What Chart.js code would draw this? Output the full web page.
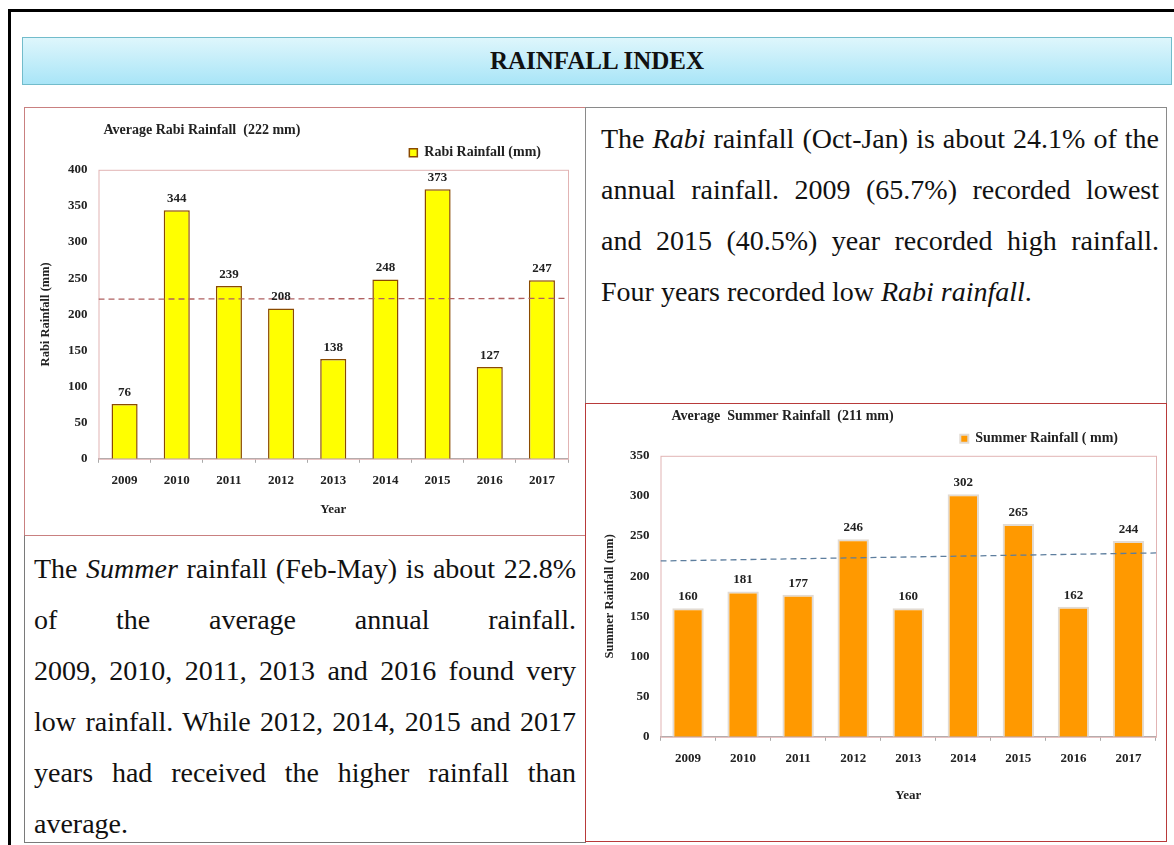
<!DOCTYPE html>
<html lang="en">
<head>
  <meta charset="UTF-8">
  <title>Rainfall Index</title>
  <script src="https://cdn.jsdelivr.net/npm/chart.js"></script>
  <style>
    body { margin: 0; background: #fff; font-family: 'Liberation Serif', 'Times New Roman', serif; }
    .frame { position: absolute; left: 8px; top: 9px; width: 1200px; height: 900px;
             border-left: 3px solid #000; border-top: 3px solid #000; }
    .banner { position: absolute; left: 22px; top: 37px; width: 1148px; height: 46px;
              background: linear-gradient(to bottom, #def6fc, #a9e5f7);
              border: 1px solid #72bccb; text-align: center; font-weight: bold;
              font-size: 25px; line-height: 46px; color: #111; }
    .box { position: absolute; box-sizing: border-box; }
    .text { font-size: 28px; line-height: 51px; color: #111; }
    .text div { text-align: justify; text-align-last: justify; white-space: nowrap; }
    .text div.last { text-align-last: left; }
    canvas { display: block; }
  </style>
</head>
<body>
  <div class="frame"></div>
  <div class="banner">RAINFALL INDEX</div>

  <!-- Rabi chart -->
  <div class="box" style="left:24px; top:107px; width:562px; height:429px; border:1px solid #c98080;">
    <div style="width:560px; height:427px;"><canvas id="rabi"></canvas></div>
  </div>

  <!-- Rabi text -->
  <div class="box text" style="left:585px; top:107px; width:582px; height:297px; border:1px solid #8a8a8a; padding:5px 7px 0 15px;">
    <div>The <i>Rabi</i> rainfall (Oct-Jan) is about 24.1% of the</div>
    <div>annual rainfall. 2009 (65.7%) recorded lowest</div>
    <div>and 2015 (40.5%) year recorded high rainfall.</div>
    <div class="last">Four years recorded low <i>Rabi rainfall</i>.</div>
  </div>

  <!-- Summer text -->
  <div class="box text" style="left:24px; top:535px; width:562px; height:308px; border:1px solid #7a7a7a; border-top-color:#c98080; padding:7px 9px 0 9px;">
    <div>The <i>Summer</i> rainfall (Feb-May) is about 22.8%</div>
    <div>of the average annual rainfall.</div>
    <div>2009, 2010, 2011, 2013 and 2016 found very</div>
    <div>low rainfall. While 2012, 2014, 2015 and 2017</div>
    <div>years had received the higher rainfall than</div>
    <div class="last">average.</div>
  </div>

  <!-- Summer chart -->
  <div class="box" style="left:585px; top:403px; width:582px; height:439px; border:1px solid #b83a3a;">
    <div style="width:580px; height:437px;"><canvas id="summer"></canvas></div>
  </div>

  <script>
    var years = ['2009', '2010', '2011', '2012', '2013', '2014', '2015', '2016', '2017'];
    var rabiValues = [76, 344, 239, 208, 138, 248, 373, 127, 247];
    var summerValues = [160, 181, 177, 246, 160, 302, 265, 162, 244];
    // dashed average lines: value at left edge and right edge of the plot
    var rabiAvgLine = [221, 222];
    var summerAvgLine = [219, 229];
    var rabiTicks = [0, 400, 50];
    var summerTicks = [0, 350, 50];

    var serif = "'Liberation Serif', 'Times New Roman', serif";

    // pink frame round the plot area, and nudge title/legend like the original
    var plotFrame = {
      id: 'plotFrame',
      beforeDraw: function(chart, args, opts) {
        var a = chart.chartArea;
        chart.titleBlock.left = a.left + opts.titleInset;
        chart.legend.right = a.right - opts.legendInset;
      },
      beforeDatasetsDraw: function(chart) {
        var a = chart.chartArea, ctx = chart.ctx;
        ctx.save();
        ctx.strokeStyle = '#e2b4b4';
        ctx.lineWidth = 1;
        ctx.strokeRect(a.left + 0.5, a.top + 0.5, a.right - a.left, a.bottom - a.top);
        ctx.restore();
      }
    };

    // value labels above the bars
    var barValues = {
      id: 'barValues',
      afterDatasetsDraw: function(chart) {
        var ctx = chart.ctx;
        ctx.save();
        ctx.font = 'bold 13px ' + serif;
        ctx.fillStyle = '#222';
        ctx.textAlign = 'center';
        ctx.textBaseline = 'bottom';
        chart.data.datasets.forEach(function(ds, i) {
          if (ds.type !== 'bar') return;
          chart.getDatasetMeta(i).data.forEach(function(bar, j) {
            ctx.fillText(ds.data[j], bar.x, bar.y - 5);
          });
        });
        ctx.restore();
      }
    };

    function makeChart(id, cfg) {
      var font = { family: serif, weight: 'bold', size: 13 };
      return new Chart(document.getElementById(id), {
        type: 'bar',
        data: {
          labels: years,
          datasets: [{
            type: 'bar',
            label: cfg.legend,
            data: cfg.values,
            backgroundColor: cfg.fill,
            borderColor: cfg.edge,
            borderWidth: cfg.edgeWidth,
            barPercentage: cfg.barPct,
            categoryPercentage: 1,
            grouped: false,
            xAxisID: 'x',
            order: 1
          }, {
            type: 'line',
            label: 'average',
            data: [{ x: 0, y: cfg.avg[0] }, { x: 1, y: cfg.avg[1] }],
            borderColor: cfg.avgColor,
            borderWidth: 1.3,
            borderDash: [6, 4],
            pointRadius: 0,
            xAxisID: 'xLine',
            order: 0
          }]
        },
        options: {
          responsive: true,
          maintainAspectRatio: false,
          animation: false,
          layout: { padding: cfg.pad },
          plugins: {
            plotFrame: { titleInset: cfg.titleInset, legendInset: cfg.legendInset },
            title: {
              display: true, text: cfg.title, align: 'start', fullSize: false,
              color: '#222', font: { family: serif, weight: 'bold', size: 14 },
              padding: cfg.titlePad
            },
            legend: {
              display: true, align: 'end', fullSize: false,
              labels: {
                filter: function(item) { return item.datasetIndex === 0; },
                boxWidth: 8, boxHeight: 8, padding: cfg.legendPad,
                color: '#222', font: { family: serif, weight: 'bold', size: 14 }
              }
            },
            tooltip: { enabled: false }
          },
          scales: {
            x: {
              type: 'category',
              offset: true,
              grid: { display: true, drawOnChartArea: false, drawTicks: true, tickLength: 4, color: '#aaa', offset: true },
              border: { color: '#aaa' },
              ticks: { color: '#222', font: font, padding: cfg.xTickPad },
              title: { display: true, text: 'Year', color: '#222', font: font, padding: { top: cfg.yearPad } }
            },
            xLine: { type: 'linear', min: 0, max: 1, offset: false, display: false },
            y: {
              min: cfg.ticks[0], max: cfg.ticks[1],
              grid: { display: false },
              border: { display: false },
              ticks: { stepSize: cfg.ticks[2], color: '#222', font: font, padding: cfg.yTickPad },
              title: { display: true, text: cfg.yTitle, color: '#222', font: { family: serif, weight: 'bold', size: 12.5 }, padding: { bottom: cfg.yTitlePad } }
            }
          }
        },
        plugins: [plotFrame, barValues]
      });
    }

    makeChart('rabi', {
      values: rabiValues, avg: rabiAvgLine, ticks: rabiTicks,
      legend: 'Rabi Rainfall (mm)', title: 'Average Rabi Rainfall  (222 mm)', yTitle: 'Rabi Rainfall (mm)',
      fill: '#ffff00', edge: '#8a4a00', edgeWidth: 1.5, barPct: 0.5, avgColor: '#b06060',
      pad: { left: 9, right: 17, bottom: 14, top: 0 },
      titlePad: { top: 14, bottom: 2 }, legendPad: 5,
      xTickPad: 10, yearPad: 3, yTickPad: 3, yTitlePad: 12,
      titleInset: 5, legendInset: 22
    });

    makeChart('summer', {
      values: summerValues, avg: summerAvgLine, ticks: summerTicks,
      legend: 'Summer Rainfall ( mm)', title: 'Average  Summer Rainfall  (211 mm)', yTitle: 'Summer Rainfall (mm)',
      fill: '#ff9900', edge: '#e2dbd3', edgeWidth: 2, barPct: 0.57, avgColor: '#5d7e9e',
      pad: { left: 12, right: 10, bottom: 34, top: 0 },
      titlePad: { top: 4, bottom: 7 }, legendPad: 0,
      xTickPad: 10, yearPad: 11, yTickPad: 3, yTitlePad: 10,
      titleInset: 11, legendInset: 38
    });
  </script>
</body>
</html>
